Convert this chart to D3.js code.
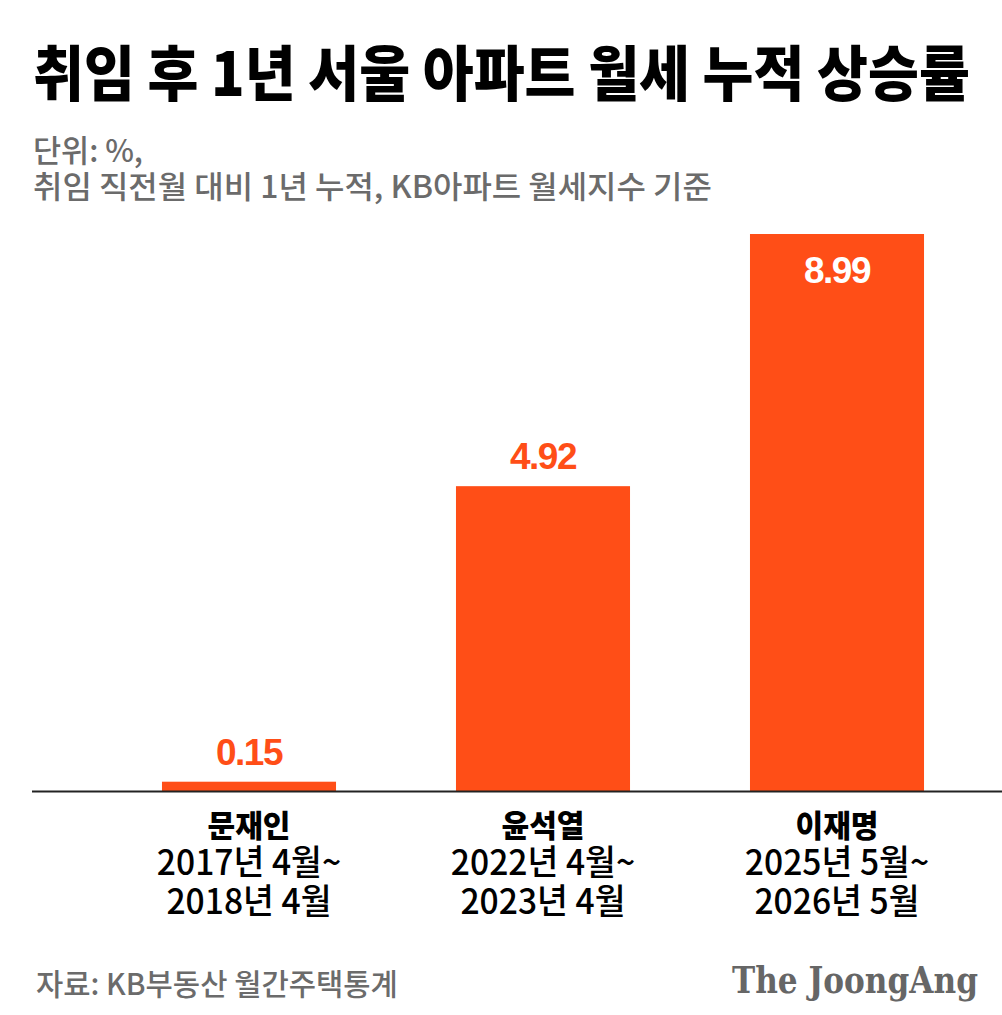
<!DOCTYPE html>
<html>
<head>
<meta charset="utf-8">
<script src="https://cdn.jsdelivr.net/npm/d3@7"></script>
<style>
  body { margin: 0; background: #fff; }
  svg { display: block; }
</style>
</head>
<body>
<div id="chart"></div>
<script>
// data
var presidents = ["문재인", "윤석열", "이재명"];
var periodStart = ["2017년 4월~", "2022년 4월~", "2025년 5월~"];
var periodEnd = ["2018년 4월", "2023년 4월", "2026년 5월"];
var rentRise = [0.15, 4.92, 8.99];

var W = 1002, H = 1015;
var orange = "#ff4e17";
var kr = "'Noto Sans CJK KR', 'Noto Sans', sans-serif";

var svg = d3.select("#chart").append("svg")
	.attr("width", W)
	.attr("height", H);

// squeeze text horizontally, the original font is a condensed gothic
function condense(sel, f) {
	sel.each(function() {
		var w = this.getComputedTextLength();
		d3.select(this).attr("textLength", w * f).attr("lengthAdjust", "spacingAndGlyphs");
	});
}

// fit a text to a width by scaling its group
function fitGroup(g, txt, x0, y0, width) {
	var w = txt.node().getComputedTextLength();
	g.attr("transform", "translate(" + x0 + "," + y0 + ") scale(" + (width / w) + ",1)");
}

// title
var tg = svg.append("g");
var title = tg.append("text")
	.style("font-family", kr)
	.style("font-size", "60px").style("font-weight", 900)
	.attr("fill", "#000")
	.text("취임 후 1년 서울 아파트 월세 누적 상승률");
fitGroup(tg, title, 33, 96, 937);

var sg = svg.append("g");
var sub1 = sg.append("text")
	.style("font-family", kr)
	.style("font-size", "31px").style("font-weight", 500)
	.attr("fill", "#6b6b6b")
	.text("단위: %,");
fitGroup(sg, sub1, 33, 162, 110);

var sg2 = svg.append("g");
var sub2 = sg2.append("text")
	.style("font-family", kr)
	.style("font-size", "31px").style("font-weight", 500)
	.attr("fill", "#6b6b6b")
	.text("취임 직전월 대비 1년 누적, KB아파트 월세지수 기준");
fitGroup(sg2, sub2, 33, 198, 679);

// scales
var x = d3.scaleBand()
	.domain(presidents)
	.range([102, 984])
	.paddingInner(0.408)
	.paddingOuter(0.204);

var y = d3.scaleLinear()
	.domain([0, 8.99])
	.range([791, 234]);

// bars
svg.selectAll("rect.bar")
	.data(rentRise)
	.join("rect")
	.attr("class", "bar")
	.attr("x", function(d, i) { return x(presidents[i]); })
	.attr("y", function(d) { return y(d); })
	.attr("width", x.bandwidth())
	.attr("height", function(d) { return y(0) - y(d); })
	.attr("fill", orange);

// baseline
svg.append("line")
	.attr("x1", 32).attr("x2", W)
	.attr("y1", y(0) + 0.5).attr("y2", y(0) + 0.5)
	.attr("stroke", "#222").attr("stroke-width", 2);

// value labels: last one sits inside the bar
var maxV = d3.max(rentRise);
svg.selectAll("text.val")
	.data(rentRise)
	.join("text")
	.attr("class", "val")
	.attr("x", function(d, i) { return x(presidents[i]) + x.bandwidth() / 2; })
	.attr("y", function(d) { return d === maxV ? y(d) + 49 : y(d) - 17; })
	.attr("text-anchor", "middle")
	.style("font-family", "'Liberation Sans', Arial, sans-serif")
	.style("font-size", "37px").style("font-weight", 700)
	.style("letter-spacing", "-1.5px")
	.attr("fill", function(d) { return d === maxV ? "#fff" : orange; })
	.text(function(d) { return d3.format(".2f")(d); });

// category labels, one text block each
var cat = svg.selectAll("text.cat")
	.data(presidents)
	.join("text")
	.attr("class", "cat")
	.attr("text-anchor", "middle")
	.style("font-family", kr)
	.attr("fill", "#000")
	.attr("transform", function(d) { return "translate(" + (x(d) + x.bandwidth() / 2) + ",0)"; });

cat.append("tspan")
	.attr("x", 0).attr("y", 837)
	.style("font-size", "31px").style("font-weight", 900)
	.text(function(d) { return d; })
	.call(condense, 0.97);

cat.append("tspan")
	.attr("x", 0).attr("y", 875)
	.style("font-size", "35px").style("font-weight", 500)
	.text(function(d, i) { return periodStart[i]; })
	.call(condense, 0.96);

cat.append("tspan")
	.attr("x", 0).attr("y", 914)
	.style("font-size", "35px").style("font-weight", 500)
	.text(function(d, i) { return periodEnd[i]; })
	.call(condense, 0.96);

// footer
var fg = svg.append("g");
var src = fg.append("text")
	.style("font-family", kr)
	.style("font-size", "30px").style("font-weight", 500)
	.attr("fill", "#6b6b6b")
	.text("자료: KB부동산 월간주택통계");
fitGroup(fg, src, 36, 995, 362);

var lg = svg.append("g");
var logo = lg.append("text")
	.style("font-family", "'DejaVu Serif', 'Liberation Serif', serif")
	.style("font-size", "37px").style("font-weight", 700)
	.attr("fill", "#666")
	.text("The JoongAng");
fitGroup(lg, logo, 732, 993, 246);
</script>
</body>
</html>
